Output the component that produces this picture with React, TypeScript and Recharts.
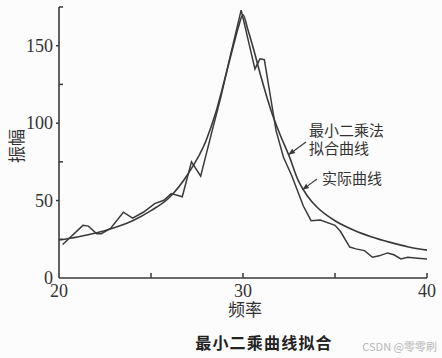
import React from 'react';
import { LineChart, Line, XAxis, YAxis, ReferenceLine } from 'recharts';

// least-squares fit curve
const fitX = [20, 21, 22, 23, 24, 25, 26, 27, 28, 28.5, 29, 29.5, 29.75, 30, 30.25, 30.5, 31, 31.5, 32, 32.5, 33, 33.5, 34, 35, 36, 37, 38, 39, 40];
const fitY = [24.5, 26.5, 29, 32.5, 37, 43.5, 52, 67, 89, 106, 128, 151, 162, 170, 161, 151, 129, 109, 93, 79, 63, 53, 46, 37, 31, 26.5, 23, 20, 18];

// measured curve
const realX = [20.2, 21.3, 21.6, 22.05, 22.3, 22.8, 23.5, 24.0, 24.6, 25.2, 25.7, 26.1, 26.7, 27.2, 27.7, 28.3, 28.8, 29.3, 29.9, 30.65, 30.92, 31.16, 31.8, 32.2, 32.65, 33.28, 33.7, 34.2, 35.0, 35.3, 35.8, 36.14, 36.6, 37.04, 37.4, 37.86, 38.2, 38.58, 38.95, 39.5, 40.0];
const realY = [21.6, 34, 33.5, 28.6, 28.6, 32, 42.5, 38.7, 42.6, 48, 50.2, 54.5, 52.5, 75, 65.8, 94, 117, 143, 173, 135, 141.5, 141, 95, 78, 66, 46.5, 37, 37.5, 34, 30, 20, 18.8, 17.7, 13.4, 14.3, 16.2, 15, 12.3, 13.4, 12.8, 12.3];

const xTicks = [20, 25, 30, 35, 40];
const xTickLabels = ['20', '', '30', '', '40'];
const yTicks = [0, 25, 50, 75, 100, 125, 150, 175];
const yTickLabels = ['0', '', '50', '', '100', '', '150', ''];

const fitData = fitX.map((x, i) => ({ x, v: fitY[i] }));
const realData = realX.map((x, i) => ({ x, v: realY[i] }));

const INK = '#3a3a3a';
const SERIF = '"Liberation Serif", "DejaVu Serif", serif';
const CJK = '"Noto Sans CJK SC", "Noto Sans", sans-serif';

const YTick = ({ x, y, payload }: any) => {
  const label = yTickLabels[yTicks.indexOf(payload.value)];
  const major = label !== '';
  if (payload.value === 0) {
    return (
      <text x={x - 6} y={y} dy="0.35em" textAnchor="end" fontSize={18} fontFamily={SERIF} fill="#333">
        {label}
      </text>
    );
  }
  return (
    <g>
      <line x1={major ? x - 3 : x} x2={major ? x : x + 4} y1={y} y2={y} stroke={INK} strokeWidth={1.5} />
      {major && (
        <text x={x - 6} y={y} dy="0.35em" textAnchor="end" fontSize={18} fontFamily={SERIF} fill="#333">
          {label}
        </text>
      )}
    </g>
  );
};

const XTick = ({ x, y, payload }: any) => {
  const label = xTickLabels[xTicks.indexOf(payload.value)];
  return (
    <g>
      {payload.value !== 20 && <line x1={x} x2={x} y1={y} y2={y - 5} stroke={INK} strokeWidth={1.5} />}
      {label !== '' && (
        <text x={x} y={y + 19} textAnchor="middle" fontSize={18} fontFamily={SERIF} fill="#333">
          {label}
        </text>
      )}
    </g>
  );
};

const Arrow = (props: any) => {
  const { x1, y1, x2, y2 } = props;
  const a = Math.atan2(y2 - y1, x2 - x1);
  const L = 7;
  const W = 2.6;
  const bx = x2 - L * Math.cos(a);
  const by = y2 - L * Math.sin(a);
  const pts = `${x2},${y2} ${bx - W * Math.sin(a)},${by + W * Math.cos(a)} ${bx + W * Math.sin(a)},${by - W * Math.cos(a)}`;
  return (
    <g>
      <line x1={x1} y1={y1} x2={bx} y2={by} stroke={INK} strokeWidth={1.2} />
      <polygon points={pts} fill={INK} />
    </g>
  );
};

export default function App() {
  return (
    <div style={{ position: 'absolute', left: 0, top: 0, width: 442, height: 358, background: '#fcfcfc' }}>
      <LineChart width={442} height={358} margin={{ top: 7, right: 15, bottom: 50, left: 19 }}>
        <XAxis
          type="number"
          dataKey="x"
          domain={[20, 40]}
          ticks={xTicks}
          interval={0}
          height={30}
          tickSize={0}
          tickMargin={0}
          tickLine={false}
          axisLine={{ stroke: INK, strokeWidth: 1.6 }}
          tick={<XTick />}
          allowDataOverflow
        />
        <YAxis
          type="number"
          domain={[0, 175]}
          ticks={yTicks}
          interval={0}
          width={40}
          tickSize={0}
          tickMargin={0}
          tickLine={false}
          axisLine={{ stroke: INK, strokeWidth: 1.6 }}
          tick={<YTick />}
          allowDataOverflow
        />
        <Line
          data={fitData}
          dataKey="v"
          type="monotone"
          stroke={INK}
          strokeWidth={1.6}
          dot={false}
          isAnimationActive={false}
        />
        <Line
          data={realData}
          dataKey="v"
          type="linear"
          stroke={INK}
          strokeWidth={1.5}
          dot={false}
          isAnimationActive={false}
        />
        <ReferenceLine segment={[{ x: 33.42, y: 87.8 }, { x: 32.45, y: 79.4 }]} shape={<Arrow />} />
        <ReferenceLine segment={[{ x: 34.02, y: 63.9 }, { x: 33.21, y: 56.8 }]} shape={<Arrow />} />
        <text x={309} y={131} dy="0.35em" fontSize={15} fontFamily={CJK} fill="#333">最小二乘法</text>
        <text x={309} y={149} dy="0.35em" fontSize={15} fontFamily={CJK} fill="#333">拟合曲线</text>
        <text x={322} y={179} dy="0.35em" fontSize={15} fontFamily={CJK} fill="#333">实际曲线</text>
        <text x={245} y={310} dy="0.35em" textAnchor="middle" fontSize={17} fontFamily={CJK} fill="#333">频率</text>
        <text
          x={17}
          y={146}
          dy="0.35em"
          textAnchor="middle"
          fontSize={17}
          fontFamily={CJK}
          fill="#333"
          transform="rotate(-90 17 146)"
        >
          振幅
        </text>
        <text x={264} y={343} dy="0.35em" textAnchor="middle" fontSize={16} fontWeight="bold" letterSpacing={1.2} fontFamily={CJK} fill="#222">
          最小二乘曲线拟合
        </text>
        <text x={437} y={347} dy="0.35em" textAnchor="end" fontSize={11} fontFamily={CJK} fill="#b8b8b8">
          CSDN @零零刷
        </text>
      </LineChart>
    </div>
  );
}
